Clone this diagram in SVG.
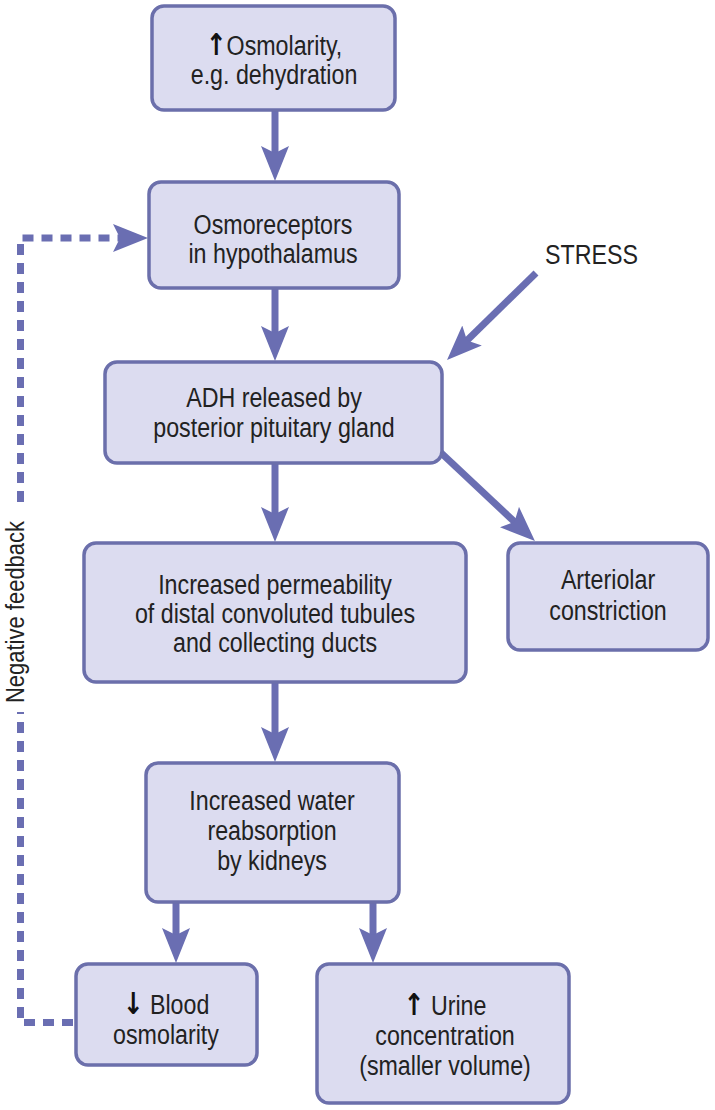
<svg xmlns="http://www.w3.org/2000/svg" width="715" height="1110" viewBox="0 0 715 1110">
<style>
.box{fill:#dcdcf0;stroke:#6b6fab;stroke-width:3.5}
.t{font-family:"Liberation Sans",Arial,sans-serif;font-size:28px;fill:#222;text-anchor:middle}
.ts{font-family:"Liberation Sans",Arial,sans-serif;font-size:28px;fill:#222}
.lbl{font-family:"Liberation Sans",Arial,sans-serif;font-size:25px;fill:#222;text-anchor:middle}
.sym{font-family:"DejaVu Sans",sans-serif;font-weight:bold;font-size:30px;fill:#111}
.ar{stroke:#6a6eb2;stroke-width:7;fill:none}
.dash{stroke:#6a6eb2;stroke-width:7;fill:none;stroke-dasharray:11 8}
</style>
<defs>
<marker id="ah" viewBox="0 0 35 28" refX="10" refY="14" markerWidth="35" markerHeight="28" markerUnits="userSpaceOnUse" orient="auto">
<path d="M0,0 L35,14 L0,28 L7,14 Z" fill="#6a6eb2"/>
</marker>
</defs>
<rect width="715" height="1110" fill="#ffffff"/>
<g id="connectors">
<line class="ar" x1="275" y1="110" x2="275" y2="156" marker-end="url(#ah)"/>
<line class="ar" x1="275" y1="288" x2="275" y2="336" marker-end="url(#ah)"/>
<line class="ar" x1="275" y1="463" x2="275" y2="517" marker-end="url(#ah)"/>
<line class="ar" x1="275" y1="682" x2="275" y2="737" marker-end="url(#ah)"/>
<line class="ar" x1="176" y1="902" x2="176" y2="938" marker-end="url(#ah)"/>
<line class="ar" x1="373" y1="902" x2="373" y2="938" marker-end="url(#ah)"/>
<line class="ar" x1="438" y1="450" x2="516.7" y2="523.9" marker-end="url(#ah)"/>
<line class="ar" x1="536" y1="273" x2="464.9" y2="342.5" marker-end="url(#ah)"/>
<path class="dash" d="M73,1022.5 H20.5 V712"/>
<path class="dash" d="M20.5,502 V238 H123" marker-end="url(#ah)"/>
</g>
<g id="n1">
<rect class="box" x="152" y="6" width="243" height="104" rx="12"/>
<text class="t" transform="translate(274 0) scale(0.83 1)"><tspan x="0" y="55"><tspan class="sym">↑</tspan>Osmolarity,</tspan><tspan x="0" y="84">e.g. dehydration</tspan></text>
</g>
<g id="n2">
<rect class="box" x="149" y="182" width="250" height="106" rx="12"/>
<text class="t" transform="translate(273 0) scale(0.83 1)"><tspan x="0" y="234">Osmoreceptors</tspan><tspan x="0" y="263">in hypothalamus</tspan></text>
</g>
<g id="stress">
<text class="ts" transform="translate(545 0) scale(0.83 1)" x="0" y="264">STRESS</text>
</g>
<g id="n3">
<rect class="box" x="105" y="362" width="337" height="101" rx="12"/>
<text class="t" transform="translate(274 0) scale(0.83 1)"><tspan x="0" y="407">ADH released by</tspan><tspan x="0" y="437">posterior pituitary gland</tspan></text>
</g>
<g id="n4">
<rect class="box" x="84" y="543" width="382" height="139" rx="12"/>
<text class="t" transform="translate(275 0) scale(0.83 1)"><tspan x="0" y="594">Increased permeability</tspan><tspan x="0" y="623">of distal convoluted tubules</tspan><tspan x="0" y="652">and collecting ducts</tspan></text>
</g>
<g id="n5">
<rect class="box" x="508" y="543" width="200" height="107" rx="12"/>
<text class="t" transform="translate(608 0) scale(0.83 1)"><tspan x="0" y="589">Arteriolar</tspan><tspan x="0" y="620">constriction</tspan></text>
</g>
<g id="n6">
<rect class="box" x="146" y="763" width="253" height="139" rx="12"/>
<text class="t" transform="translate(272 0) scale(0.83 1)"><tspan x="0" y="810">Increased water</tspan><tspan x="0" y="840">reabsorption</tspan><tspan x="0" y="870">by kidneys</tspan></text>
</g>
<g id="n7">
<rect class="box" x="76" y="964" width="181" height="101" rx="12"/>
<text class="t" transform="translate(166 0) scale(0.83 1)"><tspan x="0" y="1014"><tspan class="sym">↓</tspan> Blood</tspan><tspan x="0" y="1044">osmolarity</tspan></text>
</g>
<g id="n8">
<rect class="box" x="317" y="964" width="252" height="139" rx="12"/>
<text class="t" transform="translate(445 0) scale(0.83 1)"><tspan x="0" y="1015"><tspan class="sym">↑</tspan> Urine</tspan><tspan x="0" y="1045">concentration</tspan><tspan x="0" y="1075">(smaller volume)</tspan></text>
</g>
<g id="feedback-label">
<text class="lbl" transform="translate(24 612) rotate(-90) scale(0.88 1)" x="0" y="0">Negative feedback</text>
</g>
</svg>
